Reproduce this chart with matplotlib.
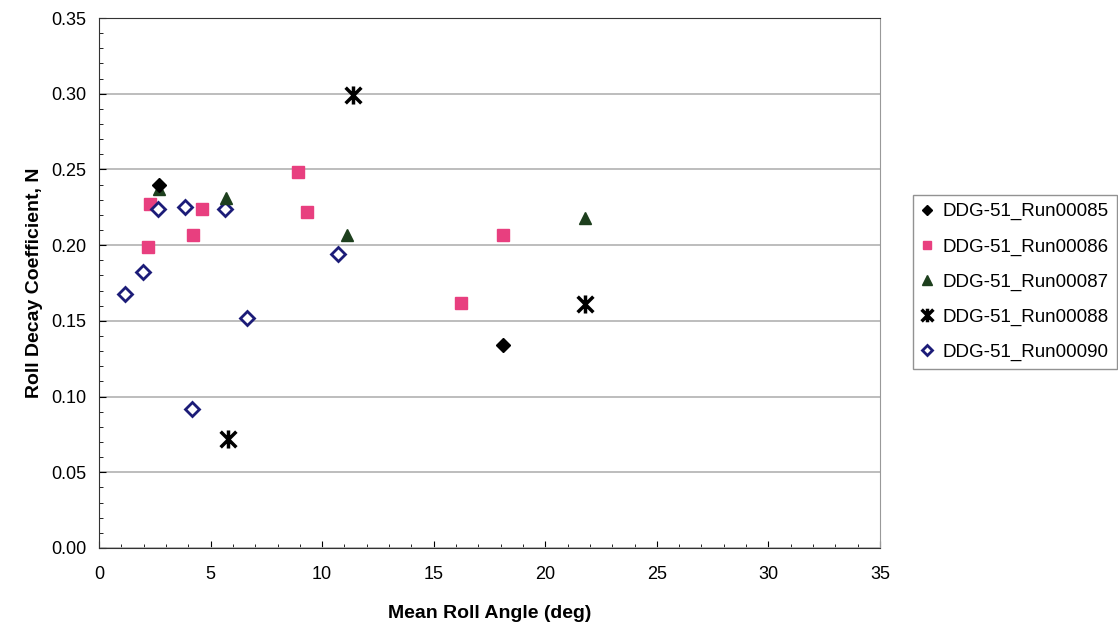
import matplotlib
matplotlib.use('Agg')
import matplotlib.pyplot as plt
from matplotlib.path import Path
from matplotlib.ticker import MultipleLocator, FormatStrFormatter

plt.rcParams['font.family'] = ['Liberation Sans', 'DejaVu Sans']

# data
run85_x = [2.7, 18.1]
run85_y = [0.240, 0.134]

run86_x = [2.3, 2.2, 4.2, 4.6, 8.9, 9.3, 16.2, 18.1]
run86_y = [0.227, 0.199, 0.207, 0.224, 0.248, 0.222, 0.162, 0.207]

run87_x = [2.7, 5.7, 11.1, 21.8]
run87_y = [0.237, 0.231, 0.207, 0.218]

run88_x = [11.4, 5.8, 21.8]
run88_y = [0.299, 0.072, 0.161]

run90_x = [1.15, 1.95, 2.65, 3.85, 5.65, 6.65, 10.7, 4.15]
run90_y = [0.168, 0.182, 0.224, 0.225, 0.224, 0.152, 0.194, 0.092]

labels = ['DDG-51_Run00085', 'DDG-51_Run00086', 'DDG-51_Run00087',
          'DDG-51_Run00088', 'DDG-51_Run00090']

# excel style star: an X with a vertical bar through it
star = Path([(-1, -1), (1, 1), (-1, 1), (1, -1), (0, -1.15), (0, 1.15)],
            [Path.MOVETO, Path.LINETO, Path.MOVETO, Path.LINETO,
             Path.MOVETO, Path.LINETO])

fig = plt.figure(figsize=(11.18, 6.28), dpi=100)
ax = fig.add_axes([0.0886, 0.1274, 0.6985, 0.8439])

ax.plot(run86_x, run86_y, ls='none', marker='s', ms=8, color='#e83f7f',
        mec='#e83f7f', label=labels[1], zorder=3)
ax.plot(run90_x, run90_y, ls='none', marker='D', ms=7, mfc='white',
        mec='#1c1c78', mew=2, label=labels[4], zorder=3)
ax.plot(run87_x, run87_y, ls='none', marker='^', ms=9, color='#1d3f1d',
        label=labels[2], zorder=4)
ax.plot(run85_x, run85_y, ls='none', marker='D', ms=7, color='black',
        label=labels[0], zorder=5)
ax.plot(run88_x, run88_y, ls='none', marker=star, ms=13, mew=2.5,
        color='black', label=labels[3], zorder=5)

ax.set_xlim(0, 35)
ax.set_ylim(0, 0.35)
ax.xaxis.set_major_locator(MultipleLocator(5))
ax.xaxis.set_minor_locator(MultipleLocator(1))
ax.yaxis.set_major_locator(MultipleLocator(0.05))
ax.yaxis.set_minor_locator(MultipleLocator(0.01))
ax.yaxis.set_major_formatter(FormatStrFormatter('%.2f'))
ax.tick_params(which='both', direction='in', labelsize=13)
ax.tick_params(axis='x', pad=13)
ax.tick_params(axis='y', pad=9)
ax.tick_params(which='major', length=5)
ax.tick_params(which='minor', length=3)
ax.grid(axis='y', which='major', color='#b8b8b8', lw=1.3)
ax.set_axisbelow(True)

for side in ['left', 'bottom', 'top']:
    ax.spines[side].set_color('#333333')
ax.spines['right'].set_color('#999999')

ax.set_xlabel('Mean Roll Angle (deg)', fontsize=14, fontweight='bold', labelpad=16)
ax.set_ylabel('Roll Decay Coefficient, N', fontsize=14, fontweight='bold', labelpad=6)

handles, labs = ax.get_legend_handles_labels()
order = [labs.index(l) for l in labels]
leg = fig.legend([handles[i] for i in order], [labs[i] for i in order],
                 loc='center left', bbox_to_anchor=(0.817, 0.551),
                 fontsize=13.5, frameon=True, fancybox=False, edgecolor='#777777',
                 handlelength=0.6, handletextpad=0.5, markerscale=0.75,
                 labelspacing=0.95, borderpad=0.45, borderaxespad=0)
leg.get_frame().set_linewidth(1.0)

fig.savefig('out.png', dpi=100)
